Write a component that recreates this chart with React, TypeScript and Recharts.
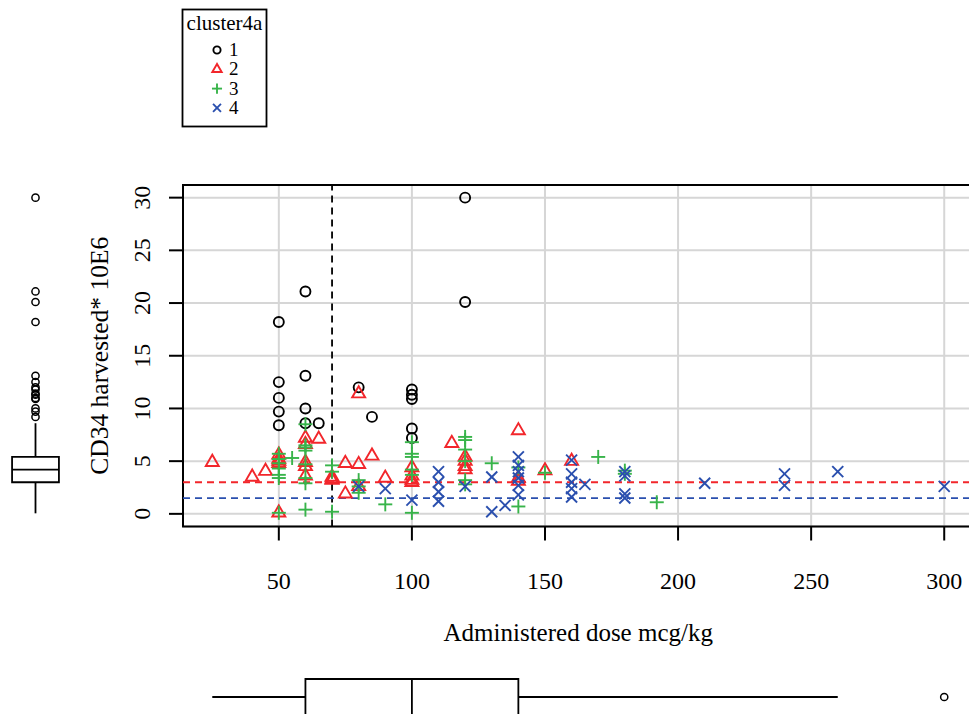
import React from "react";
import {
  ScatterChart,
  Scatter,
  XAxis,
  YAxis,
  CartesianGrid,
  ReferenceLine,
  ReferenceArea,
  Label,
} from "recharts";

const FONT = "Liberation Serif, Times New Roman, DejaVu Serif, serif";
const RED = "#f2262b";
const GREEN = "#38b44a";
const BLUE = "#2a4fae";

// cluster 1 (circles)
const dose1 = [50, 50, 50, 50, 50, 60, 60, 60, 60, 65, 80, 85, 100, 100, 100, 100, 100, 120, 120];
const cd34_1 = [18.2, 12.5, 11.0, 9.7, 8.4, 21.1, 13.1, 10.0, 8.6, 8.6, 12.0, 9.2, 11.8, 11.3, 10.9, 8.1, 7.2, 30.0, 20.1];

// cluster 2 (triangles)
const dose2 = [25, 40, 45, 50, 50, 50, 50, 50, 60, 60, 60, 60, 60, 65, 70, 70, 70, 75, 75, 80, 80, 80, 85, 90, 100, 100, 100, 100, 115, 120, 120, 120, 120, 140, 140, 140, 150, 160];
const cd34_2 = [4.9, 3.5, 4.05, 5.6, 5.2, 5.0, 4.8, 0.1, 7.2, 6.6, 4.9, 4.5, 3.6, 7.1, 3.5, 3.3, 3.2, 4.8, 1.9, 11.4, 4.7, 2.6, 5.5, 3.4, 4.4, 3.6, 3.2, 3.0, 6.7, 5.4, 5.0, 4.5, 4.2, 7.9, 3.4, 3.1, 4.1, 5.0];

// cluster 3 (plus)
const dose3 = [50, 50, 50, 50, 50, 50, 50, 55, 60, 60, 60, 60, 60, 60, 60, 60, 70, 70, 70, 80, 80, 80, 90, 100, 100, 100, 100, 100, 100, 120, 120, 120, 120, 120, 120, 130, 140, 140, 150, 170, 180, 180, 192];
const cd34_3 = [5.7, 5.2, 4.8, 4.3, 3.7, 3.4, 0.1, 5.3, 8.5, 6.5, 6.3, 6.0, 4.7, 3.4, 2.9, 0.4, 4.6, 4.0, 0.2, 3.2, 2.6, 2.0, 0.9, 6.8, 5.7, 5.4, 4.2, 3.7, 0.1, 7.3, 7.0, 6.1, 5.0, 3.2, 2.8, 4.8, 4.4, 0.7, 3.9, 5.4, 4.1, 3.8, 1.1];

// cluster 4 (x)
const dose4 = [80, 90, 100, 110, 110, 110, 110, 120, 130, 130, 135, 140, 140, 140, 140, 140, 140, 160, 160, 160, 160, 160, 165, 180, 180, 180, 180, 210, 240, 240, 260, 300];
const cd34_4 = [2.6, 2.4, 1.3, 4.0, 3.0, 2.1, 1.2, 2.6, 3.5, 0.2, 0.8, 5.4, 4.6, 4.0, 3.4, 2.7, 1.8, 5.1, 3.8, 3.0, 2.4, 1.6, 2.8, 4.0, 3.6, 1.9, 1.5, 2.9, 3.8, 2.7, 4.0, 2.6];

const clusterLabels = ["1", "2", "3", "4"];
const doseTicks = [50, 100, 150, 200, 250, 300];
const cd34Ticks = [0, 5, 10, 15, 20, 25, 30];

const cutoffDose = 70;
const redLevel = 3.0;
const blueLevel = 1.5;

// marginal boxplots: [lower whisker, q1, median, q3, upper whisker]
const doseBox = [25, 60, 100, 140, 260];
const doseOutliers = [300];
const cd34Box = [0.05, 3.0, 4.2, 5.4, 8.6];
const cd34Outliers = [9.2, 9.7, 10.0, 10.9, 11.0, 11.3, 11.4, 11.8, 12.0, 12.5, 13.1, 18.2, 20.1, 21.1, 30.0];

const X_DOMAIN = [14, 311];
const Y_DOMAIN = [-1.2, 31.2];
const PLOT_TOP = 185;
const PLOT_H = 341.5;

const toPoints = (xs: number[], ys: number[]) => xs.map((x, i) => ({ x, y: ys[i] }));

const SW = 1.9;
const textStyle = { fontFamily: FONT, fill: "#000" };

const drawCircle = (cx: number, cy: number, r: number, color: string, sw = SW) => (
  <circle cx={cx} cy={cy} r={r} fill="none" stroke={color} strokeWidth={sw} />
);
const drawTriangle = (cx: number, cy: number, s: number, color: string) => {
  const w = s;
  const h = s * 0.86;
  const pts = `${cx},${cy - (h * 2) / 3} ${cx - w / 2},${cy + h / 3} ${cx + w / 2},${cy + h / 3}`;
  return <polygon points={pts} fill="none" stroke={color} strokeWidth={SW} />;
};
const drawPlus = (cx: number, cy: number, s: number, color: string) => (
  <g stroke={color} strokeWidth={SW}>
    <line x1={cx - s / 2} y1={cy} x2={cx + s / 2} y2={cy} />
    <line x1={cx} y1={cy - s / 2} x2={cx} y2={cy + s / 2} />
  </g>
);
const drawCross = (cx: number, cy: number, s: number, color: string) => (
  <g stroke={color} strokeWidth={SW}>
    <line x1={cx - s / 2} y1={cy - s / 2} x2={cx + s / 2} y2={cy + s / 2} />
    <line x1={cx - s / 2} y1={cy + s / 2} x2={cx + s / 2} y2={cy - s / 2} />
  </g>
);

const clusters = [
  { name: clusterLabels[0], data: toPoints(dose1, cd34_1), draw: (cx: number, cy: number, k = 1) => drawCircle(cx, cy, 5 * k, "#000") },
  { name: clusterLabels[1], data: toPoints(dose2, cd34_2), draw: (cx: number, cy: number, k = 1) => drawTriangle(cx, cy, 13 * k, RED) },
  { name: clusterLabels[2], data: toPoints(dose3, cd34_3), draw: (cx: number, cy: number, k = 1) => drawPlus(cx, cy, 14 * k, GREEN) },
  { name: clusterLabels[3], data: toPoints(dose4, cd34_4), draw: (cx: number, cy: number, k = 1) => drawCross(cx, cy, 11 * k, BLUE) },
];

const YTick = (props: any) => {
  const { x, y, payload } = props;
  const bx = x - 17;
  return (
    <text
      x={bx}
      y={y}
      transform={`rotate(-90, ${bx}, ${y})`}
      textAnchor="middle"
      fontSize={24}
      style={textStyle}
    >
      {payload.value}
    </text>
  );
};

const XTick = (props: any) => {
  const { x, y, payload } = props;
  return (
    <text x={x} y={y + 17} textAnchor="middle" fontSize={24} style={textStyle}>
      {payload.value}
    </text>
  );
};

const XTitle = (props: any) => {
  const vb = props.viewBox || { x: 183, y: 526.5, width: 790.5, height: 120 };
  return (
    <text
      x={vb.x + vb.width / 2}
      y={vb.y + vb.height - 5.5}
      textAnchor="middle"
      fontSize={25}
      style={textStyle}
    >
      Administered dose mcg/kg
    </text>
  );
};

const YTitle = () => {
  const bx = 108;
  const cy = PLOT_TOP + PLOT_H / 2;
  return (
    <text
      x={bx}
      y={cy}
      transform={`rotate(-90, ${bx}, ${cy})`}
      textAnchor="middle"
      fontSize={25.5}
      style={textStyle}
    >
      CD34 harvested* 10E6
    </text>
  );
};

const MainChart = () => (
  <ScatterChart
    width={1000}
    height={714}
    margin={{ top: PLOT_TOP, right: 26.5, left: 93, bottom: 67.5 }}
  >
    <CartesianGrid stroke="#d6d6d6" strokeWidth={2} />
    <XAxis
      type="number"
      dataKey="x"
      domain={X_DOMAIN}
      ticks={doseTicks}
      height={120}
      tickSize={14}
      tickMargin={31}
      axisLine={false}
      tickLine={{ stroke: "#000", strokeWidth: 2 }}
      tick={<XTick />}
    >
      <Label content={<XTitle />} />
    </XAxis>
    <YAxis
      type="number"
      dataKey="y"
      domain={Y_DOMAIN}
      ticks={cd34Ticks}
      width={90}
      tickSize={14}
      axisLine={false}
      tickLine={{ stroke: "#000", strokeWidth: 2 }}
      tick={<YTick />}
    >
      <Label content={<YTitle />} />
    </YAxis>
    <ReferenceArea
      x1={X_DOMAIN[0]}
      x2={X_DOMAIN[1]}
      y1={Y_DOMAIN[0]}
      y2={Y_DOMAIN[1]}
      fill="none"
      fillOpacity={0}
      stroke="#000"
      strokeWidth={2}
    />
    <ReferenceLine x={cutoffDose} stroke="#000" strokeWidth={1.8} strokeDasharray="7 5" />
    {clusters.map((c) => (
      <Scatter
        key={c.name}
        name={c.name}
        data={c.data}
        isAnimationActive={false}
        shape={(p: any) => c.draw(p.cx, p.cy)}
      />
    ))}
    <ReferenceLine y={redLevel} stroke={RED} strokeWidth={1.8} strokeDasharray="7 5" />
    <ReferenceLine y={blueLevel} stroke={BLUE} strokeWidth={1.8} strokeDasharray="7 5" />
  </ScatterChart>
);

const LeftBox = () => {
  const [lo, q1, med, q3, hi] = cd34Box;
  const h = 0.66;
  return (
    <ScatterChart width={71} height={714} margin={{ top: PLOT_TOP, right: 0, left: 0, bottom: 714 - PLOT_TOP - PLOT_H }}>
      <XAxis type="number" dataKey="x" domain={[0, 2]} hide />
      <YAxis type="number" dataKey="y" domain={Y_DOMAIN} hide />
      <ReferenceLine segment={[{ x: 1, y: lo }, { x: 1, y: q1 }]} stroke="#000" strokeWidth={1.8} />
      <ReferenceLine segment={[{ x: 1, y: q3 }, { x: 1, y: hi }]} stroke="#000" strokeWidth={1.8} />
      <ReferenceArea x1={1 - h} x2={1 + h} y1={q1} y2={q3} fill="#fff" fillOpacity={1} stroke="#000" strokeWidth={1.8} />
      <ReferenceLine segment={[{ x: 1 - h, y: med }, { x: 1 + h, y: med }]} stroke="#000" strokeWidth={1.8} />
      <Scatter
        data={cd34Outliers.map((y) => ({ x: 1, y }))}
        isAnimationActive={false}
        shape={(p: any) => drawCircle(p.cx, p.cy, 3.6, "#000", 1.5)}
      />
    </ScatterChart>
  );
};

const BottomBox = () => {
  const [lo, q1, med, q3, hi] = doseBox;
  const h = 0.5;
  return (
    <ScatterChart width={1000} height={114} margin={{ top: 21, right: 26.5, left: 183, bottom: 21 }}>
      <XAxis type="number" dataKey="x" domain={X_DOMAIN} hide />
      <YAxis type="number" dataKey="y" domain={[0, 2]} hide />
      <ReferenceLine segment={[{ x: lo, y: 1 }, { x: q1, y: 1 }]} stroke="#000" strokeWidth={1.8} />
      <ReferenceLine segment={[{ x: q3, y: 1 }, { x: hi, y: 1 }]} stroke="#000" strokeWidth={1.8} />
      <ReferenceArea x1={q1} x2={q3} y1={1 - h} y2={1 + h} fill="#fff" fillOpacity={1} stroke="#000" strokeWidth={1.8} />
      <ReferenceLine segment={[{ x: med, y: 1 - h }, { x: med, y: 1 + h }]} stroke="#000" strokeWidth={1.8} />
      <Scatter
        data={doseOutliers.map((x) => ({ x, y: 1 }))}
        isAnimationActive={false}
        shape={(p: any) => drawCircle(p.cx, p.cy, 3.6, "#000", 1.5)}
      />
    </ScatterChart>
  );
};

const LegendBox = () => (
  <svg width={300} height={140} style={{ position: "absolute", left: 0, top: 0 }}>
    <rect x={182.5} y={9.5} width={84} height={117} fill="#fff" stroke="#000" strokeWidth={1.8} />
    <text x={224.5} y={30} textAnchor="middle" fontSize={21} style={textStyle}>
      cluster4a
    </text>
    {clusters.map((c, i) => {
      const cy = 50 + i * 19.3;
      return (
        <g key={c.name}>
          {c.draw(217, cy, 0.72)}
          <text x={229} y={cy + 6} fontSize={19} style={textStyle}>
            {c.name}
          </text>
        </g>
      );
    })}
  </svg>
);

export default function App() {
  return (
    <div
      style={{
        position: "absolute",
        left: 0,
        top: 0,
        width: 969,
        height: 714,
        overflow: "hidden",
        background: "#fff",
        fontFamily: FONT,
      }}
    >
      <div style={{ position: "absolute", left: 0, top: 0 }}>
        <MainChart />
      </div>
      <div style={{ position: "absolute", left: 0, top: 0 }}>
        <LeftBox />
      </div>
      <div style={{ position: "absolute", left: 0, top: 640 }}>
        <BottomBox />
      </div>
      <LegendBox />
    </div>
  );
}
